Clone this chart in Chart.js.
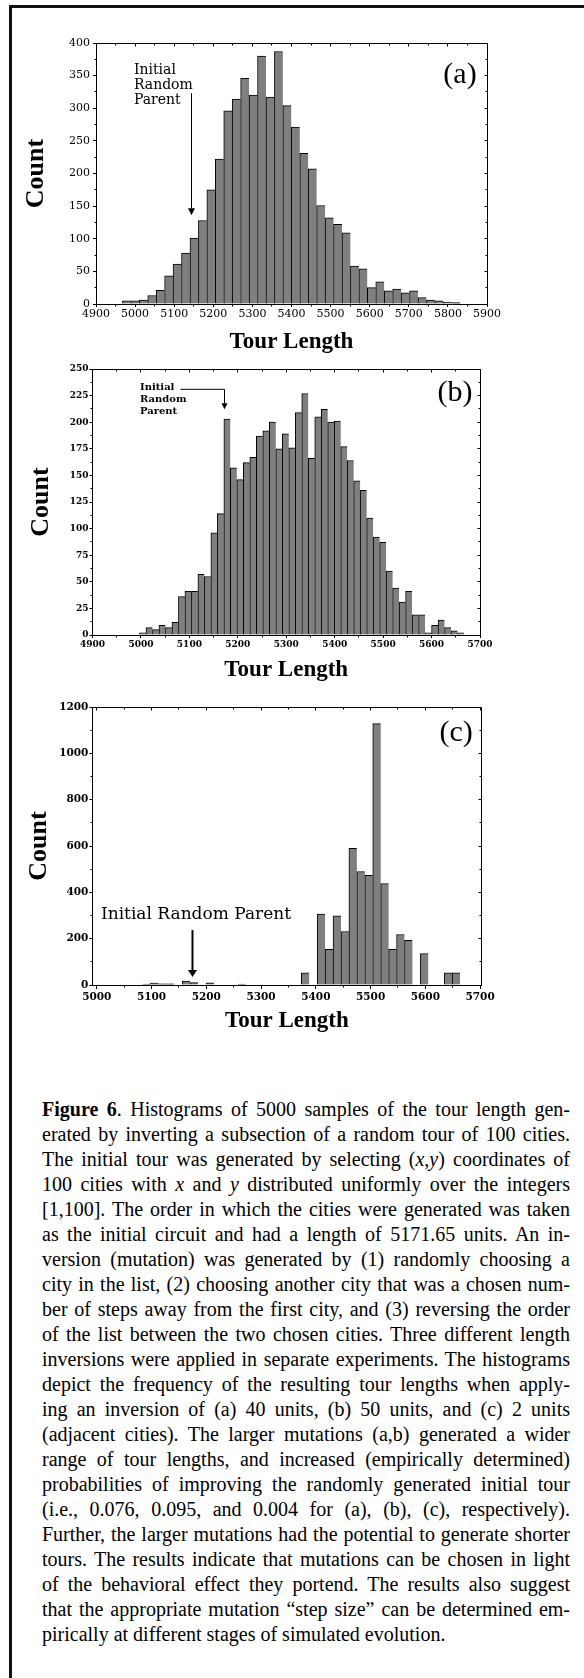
<!DOCTYPE html>
<html>
<head>
<meta charset="utf-8">
<script src="https://cdn.jsdelivr.net/npm/chart.js@4.4.1/dist/chart.umd.min.js"></script>
<style>
  html, body { margin: 0; padding: 0; background: #fff; }
  #page { position: relative; width: 584px; height: 1678px; overflow: hidden; background: #fff; }
  .rule { position: absolute; background: #111; }
  .rule.top { left: 9px; top: 5px; width: 575px; height: 3px; }
  .rule.left { left: 9px; top: 5px; width: 3px; height: 1673px; }
  canvas { position: absolute; left: 0; }
  #caption {
    position: absolute; left: 42px; top: 1097px; width: 528px;
    font-family: 'Liberation Serif', 'Times New Roman', serif;
    font-size: 20px; line-height: 25px; color: #000;
  }
  #caption .ln { white-space: nowrap; height: 25px; }
</style>
</head>
<body>
<div id="page">
  <div class="rule top"></div>
  <div class="rule left"></div>

  <canvas id="chartA" width="584" height="360" style="top:0px"></canvas>
  <canvas id="chartB" width="584" height="330" style="top:355px"></canvas>
  <canvas id="chartC" width="584" height="345" style="top:690px"></canvas>

  <div id="caption">
    <div class="ln"><span><b>Figure 6</b>. Histograms of 5000 samples of the tour length gen-</span></div>
    <div class="ln"><span>erated by inverting a subsection of a random tour of 100 cities.</span></div>
    <div class="ln"><span>The initial tour was generated by selecting (<i>x</i>,<i>y</i>) coordinates of</span></div>
    <div class="ln"><span>100 cities with <i>x</i> and <i>y</i> distributed uniformly over the integers</span></div>
    <div class="ln"><span>[1,100]. The order in which the cities were generated was taken</span></div>
    <div class="ln"><span>as the initial circuit and had a length of 5171.65 units. An in-</span></div>
    <div class="ln"><span>version (mutation) was generated by (1) randomly choosing a</span></div>
    <div class="ln"><span>city in the list, (2) choosing another city that was a chosen num-</span></div>
    <div class="ln"><span>ber of steps away from the first city, and (3) reversing the order</span></div>
    <div class="ln"><span>of the list between the two chosen cities. Three different length</span></div>
    <div class="ln"><span>inversions were applied in separate experiments. The histograms</span></div>
    <div class="ln"><span>depict the frequency of the resulting tour lengths when apply-</span></div>
    <div class="ln"><span>ing an inversion of (a) 40 units, (b) 50 units, and (c) 2 units</span></div>
    <div class="ln"><span>(adjacent cities). The larger mutations (a,b) generated a wider</span></div>
    <div class="ln"><span>range of tour lengths, and increased (empirically determined)</span></div>
    <div class="ln"><span>probabilities of improving the randomly generated initial tour</span></div>
    <div class="ln"><span>(i.e., 0.076, 0.095, and 0.004 for (a), (b), (c), respectively).</span></div>
    <div class="ln"><span>Further, the larger mutations had the potential to generate shorter</span></div>
    <div class="ln"><span>tours. The results indicate that mutations can be chosen in light</span></div>
    <div class="ln"><span>of the behavioral effect they portend. The results also suggest</span></div>
    <div class="ln"><span>that the appropriate mutation “step size” can be determined em-</span></div>
    <div class="ln"><span>pirically at different stages of simulated evolution.</span></div>
  </div>
</div>

<script>
// (a) inversion of 40 units
const binsA = [4978.3, 4999.9, 5021.5, 5043.1, 5064.7, 5086.3, 5107.9, 5129.5, 5151.1, 5172.7,
               5194.3, 5215.9, 5237.5, 5259.1, 5280.7, 5302.3, 5323.9, 5345.5, 5367.1, 5388.7,
               5410.3, 5431.9, 5453.5, 5475.1, 5496.7, 5518.3, 5539.9, 5561.5, 5583.1, 5604.7,
               5626.3, 5647.9, 5669.5, 5691.1, 5712.7, 5734.3, 5755.9, 5777.5, 5799.1, 5820.7];
const countsA = [5, 5, 6, 13, 21, 43, 61, 78, 101, 128,
                 175, 222, 296, 314, 346, 320, 380, 317, 387, 304,
                 271, 231, 207, 151, 132, 122, 109, 58, 54, 25,
                 34, 20, 23, 17, 20, 10, 6, 5, 3, 2];
const xTicksA = [4900, 5000, 5100, 5200, 5300, 5400, 5500, 5600, 5700, 5800, 5900];
const yTicksA = [0, 50, 100, 150, 200, 250, 300, 350, 400];

// (b) inversion of 50 units
const binsB = [5003.7, 5017.1, 5030.5, 5043.9, 5057.3, 5070.7, 5084.1, 5097.5, 5110.9, 5124.3,
               5137.7, 5151.1, 5164.5, 5177.9, 5191.3, 5204.7, 5218.1, 5231.5, 5244.9, 5258.3,
               5271.7, 5285.1, 5298.5, 5311.9, 5325.3, 5338.7, 5352.1, 5365.5, 5378.9, 5392.3,
               5405.7, 5419.1, 5432.5, 5445.9, 5459.3, 5472.7, 5486.1, 5499.5, 5512.9, 5526.3,
               5539.7, 5553.1, 5566.5, 5579.9, 5593.3, 5606.7, 5620.1, 5633.5, 5646.9, 5660.3];
const countsB = [2, 7, 5, 9, 7, 12, 36, 41, 41, 57,
                 55, 96, 114, 203, 157, 146, 162, 167, 187, 192,
                 200, 175, 189, 176, 209, 227, 166, 205, 212, 200,
                 201, 177, 164, 145, 136, 110, 92, 87, 60, 44,
                 31, 41, 19, 19, 2, 9, 14, 7, 4, 2];
const xTicksB = [4900, 5000, 5100, 5200, 5300, 5400, 5500, 5600, 5700];
const yTicksB = [0, 25, 50, 75, 100, 125, 150, 175, 200, 225, 250];

// (c) inversion of 2 units (adjacent cities)
const binsC = [5090.7, 5105.2, 5119.7, 5134.2, 5148.7, 5163.2, 5177.7, 5192.2, 5206.7, 5221.2,
               5235.7, 5250.2, 5264.7, 5279.2, 5293.7, 5308.2, 5322.7, 5337.2, 5351.7, 5366.2,
               5380.7, 5395.2, 5409.7, 5424.2, 5438.7, 5453.2, 5467.7, 5482.2, 5496.7, 5511.2,
               5525.7, 5540.2, 5554.7, 5569.2, 5583.7, 5598.2, 5612.7, 5627.2, 5641.7, 5656.2];
const countsC = [4, 8, 5, 5, 0, 17, 10, 0, 9, 0,
                 0, 0, 4, 0, 0, 0, 0, 0, 0, 0,
                 53, 0, 306, 154, 299, 231, 590, 490, 473, 1128,
                 438, 154, 218, 193, 0, 136, 0, 0, 53, 53];
const xTicksC = [5000, 5100, 5200, 5300, 5400, 5500, 5600, 5700];
const yTicksC = [0, 200, 400, 600, 800, 1000, 1200];

const SERIF = "'Liberation Serif', 'Times New Roman', serif";
const SCHOOL = "'DejaVu Serif', serif";

// box on top/right, mirrored ticks and short minor ticks
const px = v => Math.round(v - 0.5) + 0.5;
const framePlugin = {
  id: 'frame',
  afterDraw(chart) {
    const { ctx, chartArea: a, scales: { x, y } } = chart;
    const L = px(a.left), R = px(a.right), T = px(a.top), B = px(a.bottom);
    const mids = vals => vals.slice(1).map((v, i) => (v + vals[i]) / 2);
    ctx.save();
    ctx.strokeStyle = '#000';
    ctx.lineWidth = 1;
    ctx.beginPath();
    ctx.moveTo(L, T); ctx.lineTo(R, T); ctx.lineTo(R, B);
    x.ticks.forEach(t => { const p = px(x.getPixelForValue(t.value)); ctx.moveTo(p, T); ctx.lineTo(p, T + 3); });
    y.ticks.forEach(t => { const p = px(y.getPixelForValue(t.value)); ctx.moveTo(R, p); ctx.lineTo(R - 3, p); });
    mids(x.ticks.map(t => t.value)).forEach(v => {
      const p = px(x.getPixelForValue(v));
      ctx.moveTo(p, B); ctx.lineTo(p, B + 2);
      ctx.moveTo(p, T); ctx.lineTo(p, T + 2);
    });
    mids(y.ticks.map(t => t.value)).forEach(v => {
      const p = px(y.getPixelForValue(v));
      ctx.moveTo(L, p); ctx.lineTo(L - 2, p);
      ctx.moveTo(R, p); ctx.lineTo(R - 2, p);
    });
    ctx.stroke();
    ctx.restore();
  }
};

// panel letter and the "Initial Random Parent" pointer
function notes(spec) {
  return {
    id: 'notes',
    afterDraw(chart) {
      const { ctx, chartArea: a, scales: { x, y } } = chart;
      ctx.save();
      ctx.fillStyle = '#000';
      ctx.strokeStyle = '#000';
      ctx.font = '30px ' + SERIF;
      ctx.textAlign = 'center';
      ctx.textBaseline = 'middle';
      ctx.fillText(spec.panel, a.right + spec.panelDx, a.top + spec.panelDy);

      ctx.font = spec.font;
      ctx.textAlign = 'left';
      spec.lines.forEach((s, i) => ctx.fillText(s, x.getPixelForValue(spec.textX), y.getPixelForValue(spec.textY[i])));

      const pts = spec.arrow.map(([vx, vy]) => [px(x.getPixelForValue(vx)), y.getPixelForValue(vy)]);
      const [tx, ty] = pts[pts.length - 1];
      ctx.lineWidth = spec.lineWidth;
      ctx.beginPath();
      pts.forEach(([qx, qy], i) => (i ? ctx.lineTo(qx, qy - (i === pts.length - 1 ? spec.head : 0)) : ctx.moveTo(qx, qy)));
      ctx.stroke();
      ctx.beginPath();
      ctx.moveTo(tx, ty);
      ctx.lineTo(tx - spec.headW / 2, ty - spec.head);
      ctx.lineTo(tx + spec.headW / 2, ty - spec.head);
      ctx.closePath();
      ctx.fill();
      ctx.restore();
    }
  };
}

function makeHistogram(id, bins, counts, xTicks, yTicks, look) {
  const tickFont = { family: SCHOOL, size: look.tickSize, weight: look.tickWeight };
  return new Chart(document.getElementById(id), {
    type: 'bar',
    data: {
      datasets: [{
        data: bins.map((b, i) => ({ x: b, y: counts[i] })),
        backgroundColor: '#7f7f7f',
        borderColor: '#000',
        borderWidth: { top: 1, left: 1, right: 0, bottom: 0 },
        borderSkipped: false,
        categoryPercentage: 1,
        barPercentage: 1
      }]
    },
    options: {
      responsive: false,
      animation: false,
      events: [],
      layout: { padding: look.pad },
      plugins: { legend: { display: false }, tooltip: { enabled: false } },
      scales: {
        x: {
          type: 'linear',
          min: look.xMin,
          max: look.xMax,
          offset: false,
          afterBuildTicks: s => { s.ticks = xTicks.map(v => ({ value: v })); },
          afterFit: s => { s.height = look.xHeight; },
          ticks: { font: tickFont, color: '#000', padding: look.xPad, maxRotation: 0, autoSkip: false, callback: v => String(v) },
          grid: { offset: false, drawOnChartArea: false, drawTicks: true, tickLength: look.xTickLen, tickColor: '#000', color: '#000' },
          border: { display: true, color: '#000', width: 1 },
          title: {
            display: true, text: 'Tour Length', color: '#000',
            font: { family: SERIF, size: 23, weight: 'bold' },
            padding: { top: 0, bottom: look.tourPad }
          }
        },
        y: {
          min: 0,
          max: yTicks[yTicks.length - 1],
          afterBuildTicks: s => { s.ticks = yTicks.map(v => ({ value: v })); },
          afterFit: s => { s.width = look.yWidth; },
          ticks: { font: tickFont, color: '#000', padding: look.yPad, autoSkip: false, callback: v => String(v) },
          grid: { drawOnChartArea: false, drawTicks: true, tickLength: 3, tickColor: '#000', color: '#000' },
          border: { display: true, color: '#000', width: 1 },
          title: {
            display: true, text: 'Count', color: '#000',
            font: { family: SERIF, size: 26, weight: 'bold' },
            padding: { top: look.countPad, bottom: 0 }
          }
        }
      }
    },
    plugins: [framePlugin, notes(look.note)]
  });
}

makeHistogram('chartA', binsA, countsA, xTicksA, yTicksA, {
  pad: { left: 0, top: 43, right: 97, bottom: 0 },
  yWidth: 96, xHeight: 56, xMin: 4900, xMax: 5900,
  tickSize: 11, tickWeight: 'normal', xTickLen: 3, xPad: 1, yPad: 3,
  countPad: 20.4, tourPad: 4.2,
  note: {
    panel: '(a)', panelDx: -27, panelDy: 32.5,
    font: '14px ' + SCHOOL, lines: ['Initial', 'Random', 'Parent'],
    textX: 4997, textY: [357.5, 334.6, 311.6],
    arrow: [[5143, 323], [5143, 136]], lineWidth: 1, head: 7, headW: 7
  }
});

makeHistogram('chartB', binsB, countsB, xTicksB, yTicksB, {
  pad: { left: 0, top: 14, right: 104, bottom: 0 },
  yWidth: 92.5, xHeight: 50, xMin: 4900, xMax: 5700,
  tickSize: 9, tickWeight: 'bold', xTickLen: 3, xPad: 1, yPad: 1,
  countPad: 25.4, tourPad: 1.2,
  note: {
    panel: '(b)', panelDx: -25, panelDy: 24,
    font: 'bold 10px ' + SCHOOL, lines: ['Initial', 'Random', 'Parent'],
    textX: 4998, textY: [232.4, 221.1, 209.8],
    arrow: [[5082, 230.9], [5173.5, 230.9], [5173.5, 212.1]], lineWidth: 1, head: 6, headW: 6
  }
});

makeHistogram('chartC', binsC, countsC, xTicksC, yTicksC, {
  pad: { left: 0, top: 17, right: 102.8, bottom: 0 },
  yWidth: 92.4, xHeight: 50, xMin: 4992, xMax: 5702,
  tickSize: 10.5, tickWeight: 'bold', xTickLen: 4, xPad: 2, yPad: 1,
  countPad: 23.4, tourPad: 0,
  note: {
    panel: '(c)', panelDx: -25, panelDy: 26,
    font: '17px ' + SCHOOL, lines: ['Initial Random Parent'],
    textX: 5007.7, textY: [302],
    arrow: [[5175.5, 237], [5175.5, 34.5]], lineWidth: 2, head: 7, headW: 9
  }
});

// justify each caption line to the block width
const capLines = document.querySelectorAll('#caption .ln');
capLines.forEach((ln, i) => {
  if (i === capLines.length - 1) return;
  const span = ln.firstElementChild;
  const gaps = (span.textContent.match(/ /g) || []).length;
  const w = span.getBoundingClientRect().width;
  if (gaps) span.style.wordSpacing = ((528 - w) / gaps) + 'px';
});
</script>
</body>
</html>
